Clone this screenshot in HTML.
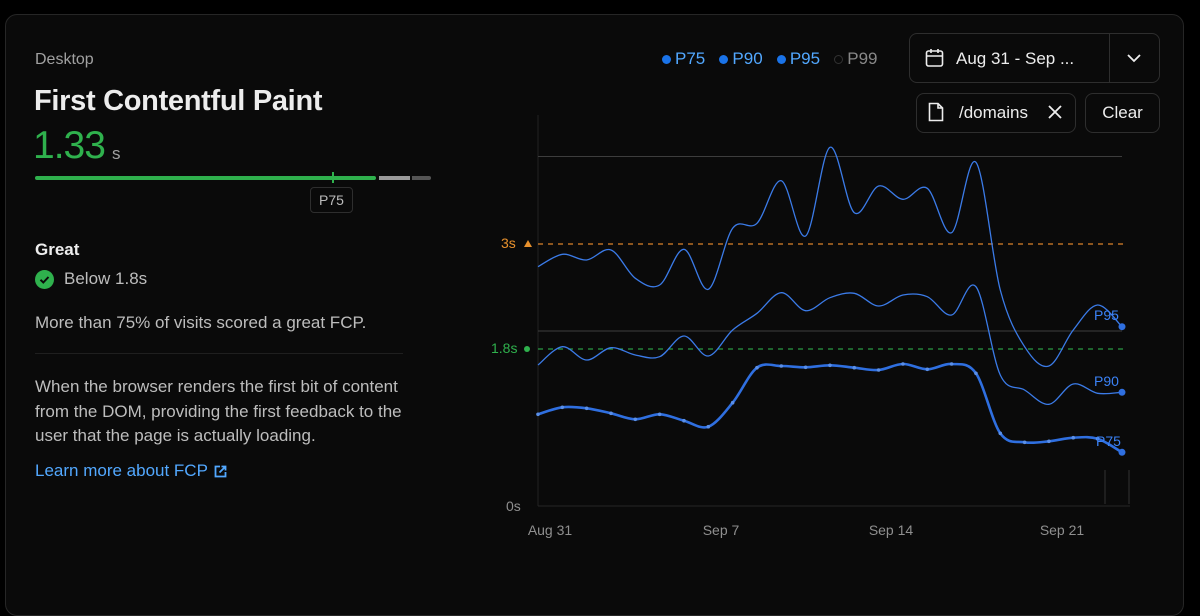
<!DOCTYPE html>
<html><head><meta charset="utf-8"><style>
html,body{margin:0;padding:0;background:#000;width:1200px;height:571px;overflow:hidden;font-family:"Liberation Sans",sans-serif}
.card{position:absolute;left:5px;top:14px;width:1177px;height:600px;background:#0a0a0a;border:1px solid #262626;border-radius:12px}
.t{position:absolute;white-space:nowrap}
.btn{position:absolute;border:1px solid #2e2e2e;border-radius:8px;background:#0a0a0a;color:#ededed;font-size:17px}
</style></head><body>
<div class="card"></div>
<div class="t" style="left:35px;top:51px;font-size:16px;color:#a1a1a1">Desktop</div>
<div class="t" style="left:34px;top:85px;font-size:29px;font-weight:bold;color:#ededed;letter-spacing:-0.3px">First Contentful Paint</div>
<div class="t" style="left:33px;top:124px;font-size:39px;color:#2fb14d;letter-spacing:-1px">1.33</div>
<div class="t" style="left:112px;top:144px;font-size:17px;color:#a1a1a1">s</div>
<div style="position:absolute;left:35px;top:176px;width:341px;height:4px;background:#2fb14d;border-radius:2px"></div>
<div style="position:absolute;left:332px;top:172px;width:2px;height:11px;background:#2fb14d"></div>
<div style="position:absolute;left:379px;top:176px;width:31px;height:4px;background:#9a9a9a"></div>
<div style="position:absolute;left:412px;top:176px;width:19px;height:4px;background:#555;border-radius:0 2px 2px 0"></div>
<div class="t" style="left:310px;top:187px;width:41px;height:24px;border:1px solid #2e2e2e;border-radius:4px;font-size:14px;color:#bbb;text-align:center;line-height:24px">P75</div>
<div class="t" style="left:35px;top:240px;font-size:17px;font-weight:bold;color:#ededed">Great</div>
<div style="position:absolute;left:35px;top:270px;width:19px;height:19px;border-radius:50%;background:#2fb14d"></div>
<svg style="position:absolute;left:35px;top:270px" width="19" height="19"><path d="M5.5 9.8 L8.3 12.5 L13.5 7" stroke="#0a0a0a" stroke-width="2" fill="none"/></svg>
<div class="t" style="left:64px;top:269px;font-size:17px;color:#bdbdbd">Below 1.8s</div>
<div class="t" style="left:35px;top:313px;font-size:17px;color:#bdbdbd">More than 75% of visits scored a great FCP.</div>
<div style="position:absolute;left:35px;top:353px;width:368px;height:1px;background:#1f1f1f"></div>
<div class="t" style="left:35px;top:375px;font-size:17px;line-height:24.5px;color:#bdbdbd">When the browser renders the first bit of content<br>from the DOM, providing the first feedback to the<br>user that the page is actually loading.</div>
<div class="t" style="left:35px;top:461px;font-size:17px;color:#52a8ff">Learn more about FCP</div>
<svg style="position:absolute;left:214px;top:465px" width="13" height="13"><path d="M6 1.5H1.5V11.5H11.5V7 M7.5 1.5H11.5V5.5 M11.5 1.5L5.5 7.5" stroke="#52a8ff" stroke-width="1.8" fill="none"/></svg>

<div class="t" style="left:662px;top:49px;font-size:17px;color:#52a8ff"><span style="display:inline-block;width:9px;height:9px;border-radius:50%;background:#1a73e8;margin-right:4px"></span>P75&nbsp;&nbsp;&nbsp;<span style="display:inline-block;width:9px;height:9px;border-radius:50%;background:#1a73e8;margin-right:4px"></span>P90&nbsp;&nbsp;&nbsp;<span style="display:inline-block;width:9px;height:9px;border-radius:50%;background:#1a73e8;margin-right:4px"></span>P95&nbsp;&nbsp;&nbsp;<span style="color:#888"><span style="display:inline-block;width:7px;height:7px;border-radius:50%;border:1px solid #333;margin-right:4px"></span>P99</span></div>
<div class="btn" style="left:909px;top:33px;width:249px;height:48px"></div>
<div style="position:absolute;left:1109px;top:34px;width:1px;height:48px;background:#2e2e2e"></div>
<svg style="position:absolute;left:925px;top:48px" width="20" height="20"><rect x="1.5" y="3" width="16" height="15" rx="2" stroke="#ededed" stroke-width="1.6" fill="none"/><path d="M1.5 8H17.5 M6 1V5 M13 1V5" stroke="#ededed" stroke-width="1.6"/></svg>
<div class="t" style="left:956px;top:49px;font-size:17px;color:#ededed">Aug 31 - Sep ...</div>
<svg style="position:absolute;left:1126px;top:52px" width="16" height="12"><path d="M2 3L8 9L14 3" stroke="#ededed" stroke-width="1.8" fill="none"/></svg>
<div class="btn" style="left:916px;top:93px;width:158px;height:38px"></div>
<svg style="position:absolute;left:928px;top:102px" width="16" height="20"><path d="M1.5 1.5H10L14.5 6V18.5H1.5Z M10 1.5V6H14.5" stroke="#ededed" stroke-width="1.6" fill="none"/></svg>
<div class="t" style="left:959px;top:103px;font-size:17px;color:#ededed">/domains</div>
<svg style="position:absolute;left:1047px;top:104px" width="16" height="16"><path d="M2 2L14 14M14 2L2 14" stroke="#ededed" stroke-width="1.8"/></svg>
<div class="btn" style="left:1085px;top:93px;width:73px;height:38px;text-align:center;line-height:38px">Clear</div>

<svg id="ch" style="position:absolute;left:0;top:0" width="1200" height="571">
<line x1="538" y1="115" x2="538" y2="506" stroke="#222"/>
<line x1="538" y1="506" x2="1130" y2="506" stroke="#262626"/>
<line x1="538" y1="156.5" x2="1122" y2="156.5" stroke="#3d3d3d"/>
<line x1="538" y1="331" x2="1122" y2="331" stroke="#3d3d3d"/>
<line x1="538" y1="244" x2="1124" y2="244" stroke="#d9822b" stroke-dasharray="5 5" stroke-width="1.3"/>
<line x1="538" y1="349" x2="1124" y2="349" stroke="#2a9a45" stroke-dasharray="5 5" stroke-width="1.3"/>
<text x="501" y="248" font-size="14" fill="#e8912d">3s</text><path d="M524 247L528 240L532 247Z" fill="#e8912d"/>
<text x="491" y="353" font-size="14" fill="#2fb14d">1.8s</text><circle cx="527" cy="349" r="3" fill="#2fb14d"/>
<text x="506" y="511" font-size="14" fill="#8f8f8f">0s</text>
<line x1="1105" y1="470" x2="1105" y2="504" stroke="#333"/><line x1="1129" y1="470" x2="1129" y2="504" stroke="#333"/>
<text x="550" y="535" font-size="14" fill="#8f8f8f" text-anchor="middle">Aug 31</text>
<text x="721" y="535" font-size="14" fill="#8f8f8f" text-anchor="middle">Sep 7</text>
<text x="891" y="535" font-size="14" fill="#8f8f8f" text-anchor="middle">Sep 14</text>
<text x="1062" y="535" font-size="14" fill="#8f8f8f" text-anchor="middle">Sep 21</text>
<g id="lines"></g>
<text x="1094" y="320" font-size="14" fill="#3b82f6">P95</text>
<text x="1094" y="386" font-size="14" fill="#3b82f6">P90</text>
<text x="1096" y="446" font-size="14" fill="#3b82f6">P75</text>
<circle cx="1122" cy="326.7" r="3.5" fill="#2f6fe0"/>
<circle cx="1122" cy="392.3" r="3.5" fill="#2f6fe0"/>
<circle cx="1122" cy="452.3" r="3.5" fill="#2f6fe0"/>
</svg>
<script>
var p75=[414.3,407.3,408.3,413.3,419.3,414.3,420.7,426.7,402.7,367.7,366,367.3,365.3,367.7,370,364,369.3,364,373.3,433.3,442.3,441.3,437.7,438.7,452.3];
var p90=[365,346.7,360,347.7,355,356.7,336,356,330,313.3,292.7,310.7,297.7,293.3,306,295,296.7,315,286.7,375,390,404.3,384,393.3,392.3];
var p95=[266.7,254.3,260,250,278.3,285,249.3,289.3,228.3,223.3,180.7,236,147.3,212.7,186,199.3,188.3,232.7,162.3,290,346.7,366,330,305,326.7];
function path(ys){var xs=ys.map(function(_,i){return 538+i*24.33});var d="M"+xs[0]+" "+ys[0];
for(var i=0;i<ys.length-1;i++){var x0=xs[Math.max(i-1,0)],y0=ys[Math.max(i-1,0)],x1=xs[i],y1=ys[i],x2=xs[i+1],y2=ys[i+1],x3=xs[Math.min(i+2,ys.length-1)],y3=ys[Math.min(i+2,ys.length-1)];
d+=" C"+(x1+(x2-x0)/6)+" "+(y1+(y2-y0)/6)+" "+(x2-(x3-x1)/6)+" "+(y2-(y3-y1)/6)+" "+x2+" "+y2;}return d;}
var g=document.getElementById("lines");
var dots="";for(var i=0;i<p75.length-1;i++){dots+='<circle cx="'+(538+i*24.33)+'" cy="'+p75[i]+'" r="1.8" fill="#5a8fe8"/>';}
g.innerHTML='<path d="'+path(p95)+'" stroke="#3b7be8" stroke-width="1.3" fill="none"/>'+
'<path d="'+path(p90)+'" stroke="#3b7be8" stroke-width="1.3" fill="none"/>'+
'<path d="'+path(p75)+'" stroke="#2f6fe0" stroke-width="2.6" fill="none"/>'+dots;
</script>
</body></html>
